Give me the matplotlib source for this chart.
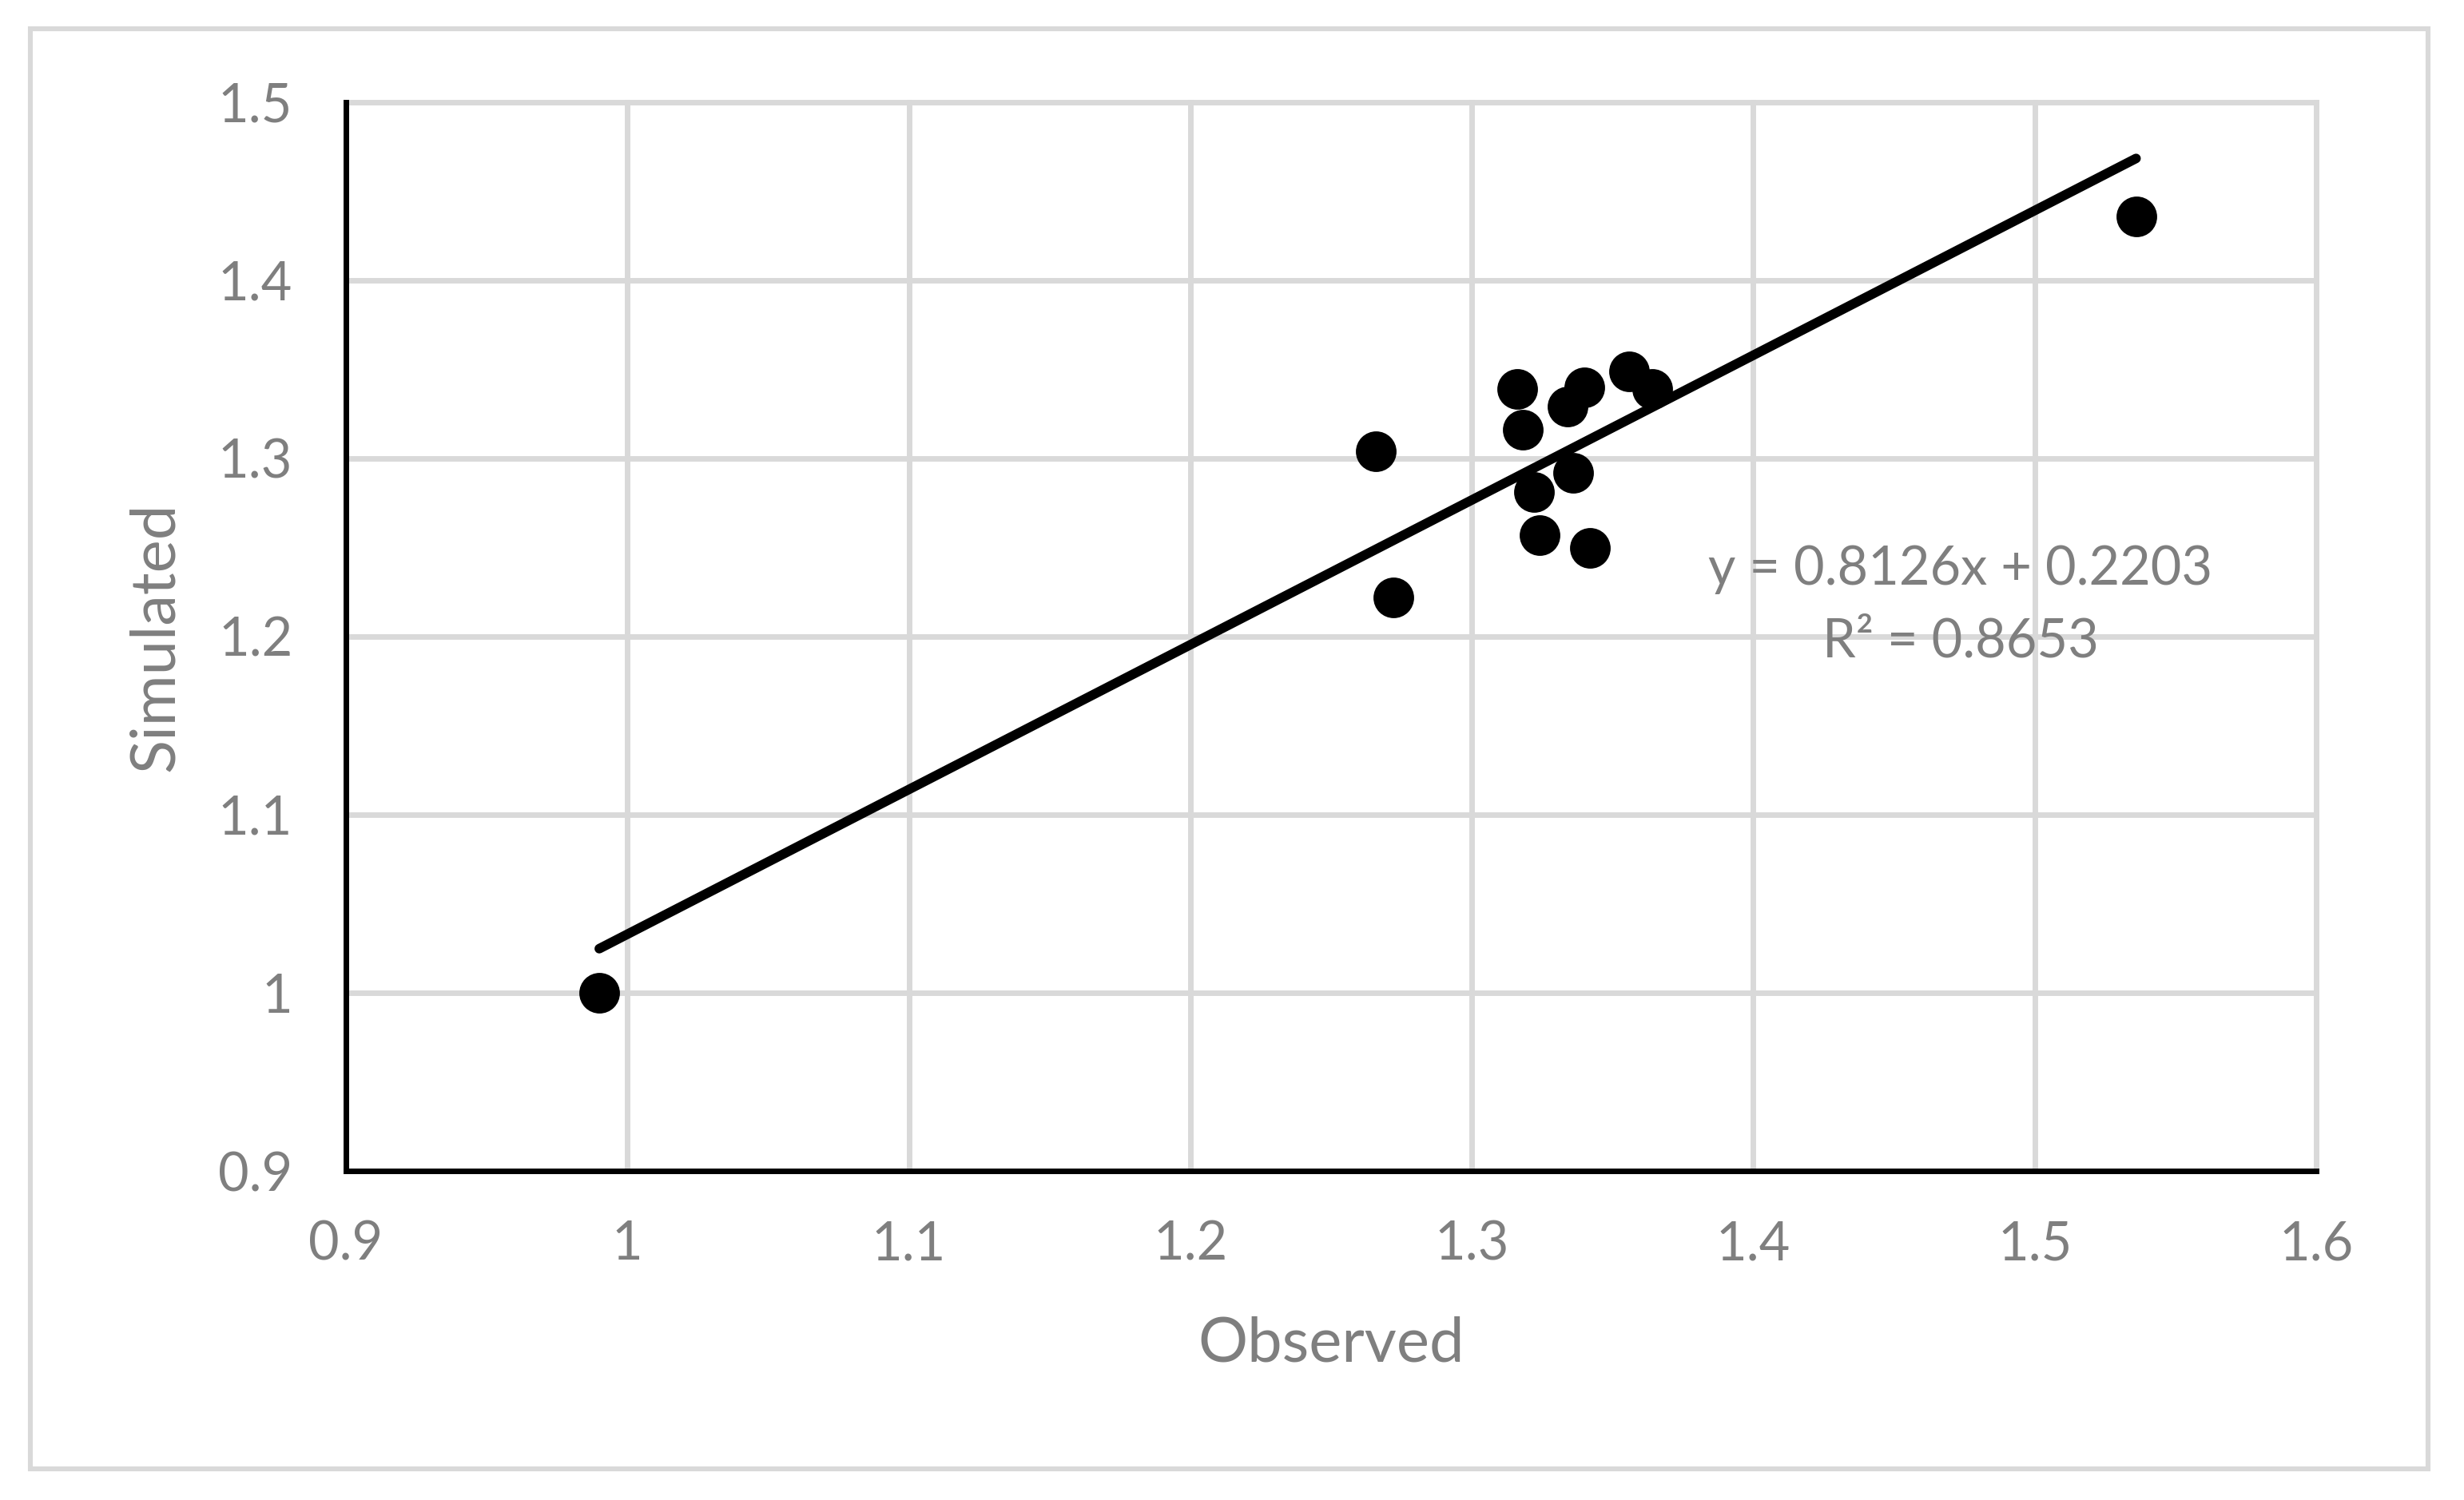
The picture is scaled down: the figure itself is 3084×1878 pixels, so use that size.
import matplotlib
matplotlib.use("Agg")
import matplotlib.pyplot as plt
from matplotlib.patches import Rectangle

# ---- data ----
observed = [0.990, 1.266, 1.272, 1.316, 1.318, 1.322, 1.324, 1.334, 1.336,
            1.340, 1.342, 1.356, 1.364, 1.536]
simulated = [1.000, 1.304, 1.222, 1.339, 1.316, 1.281, 1.257, 1.329, 1.292,
             1.340, 1.250, 1.349, 1.339, 1.436]
slope = 0.8126
intercept = 0.2203
r_squared = 0.8653

x_ticks = [0.9, 1.0, 1.1, 1.2, 1.3, 1.4, 1.5, 1.6]
x_tick_labels = ["0.9", "1", "1.1", "1.2", "1.3", "1.4", "1.5", "1.6"]
y_ticks = [0.9, 1.0, 1.1, 1.2, 1.3, 1.4, 1.5]
y_tick_labels = ["0.9", "1", "1.1", "1.2", "1.3", "1.4", "1.5"]
x_label = "Observed"
y_label = "Simulated"

plt.rcParams['font.family'] = ['Lato', 'DejaVu Sans']

W, H, DPI = 3084, 1878, 200
fig = plt.figure(figsize=(W / DPI, H / DPI), dpi=DPI)

GRAY_TXT = "#7f7f7f"
GRID = "#d9d9d9"

# outer chart border
fig.patches.append(Rectangle((38 / W, 1 - 1839 / H), (3039 - 38) / W, (1839 - 36) / H,
                             transform=fig.transFigure, fill=False,
                             edgecolor=GRID, linewidth=2.2))

ax = fig.add_axes([433 / W, 1 - 1466 / H, (2899 - 433) / W, (1466 - 128) / H])
ax.set_xlim(0.9, 1.6)
ax.set_ylim(0.9, 1.5)
ax.set_xticks(x_ticks)
ax.set_xticklabels(x_tick_labels)
ax.set_yticks(y_ticks)
ax.set_yticklabels(y_tick_labels)

ax.grid(True, color=GRID, linewidth=2.5, zorder=0)
ax.set_axisbelow(True)
for gl in ax.get_xgridlines() + ax.get_ygridlines():
    gl.set_clip_on(False)

for side in ("top", "right"):
    ax.spines[side].set_visible(False)
for side in ("left", "bottom"):
    ax.spines[side].set_color("black")
    ax.spines[side].set_linewidth(2.5)
    ax.spines[side].set_zorder(3)

ax.tick_params(axis="both", length=0, labelsize=24, labelcolor=GRAY_TXT)
ax.tick_params(axis="x", pad=22)
ax.tick_params(axis="y", pad=24)

# scatter points
ax.plot(observed, simulated, linestyle="none", marker="o", markersize=17.3,
        color="black", zorder=4, clip_on=False)

# linear trendline
x0, x1 = min(observed), max(observed)
ax.plot([x0, x1], [slope * x0 + intercept, slope * x1 + intercept],
        color="black", linewidth=4.3, solid_capstyle="round", zorder=5)

ax.text(0.8195, 0.5628, f"y = {slope:.4f}x + {intercept:.4f}", transform=ax.transAxes,
        ha="center", va="center", fontsize=24, color=GRAY_TXT)
ax.text(0.8195, 0.4955, f"R\u00b2 = {r_squared:.4f}", transform=ax.transAxes,
        ha="center", va="center", fontsize=24, color=GRAY_TXT)

ax.set_xlabel(x_label, fontsize=28, color=GRAY_TXT)
ax.xaxis.label.set_va("center")
ax.xaxis.set_label_coords(0.5, -0.162)
ax.set_ylabel(y_label, fontsize=28, color=GRAY_TXT)
ax.yaxis.label.set_va("center")
ax.yaxis.set_label_coords(-0.0965, 0.5)

fig.savefig("out.png", dpi=DPI, facecolor="white")
